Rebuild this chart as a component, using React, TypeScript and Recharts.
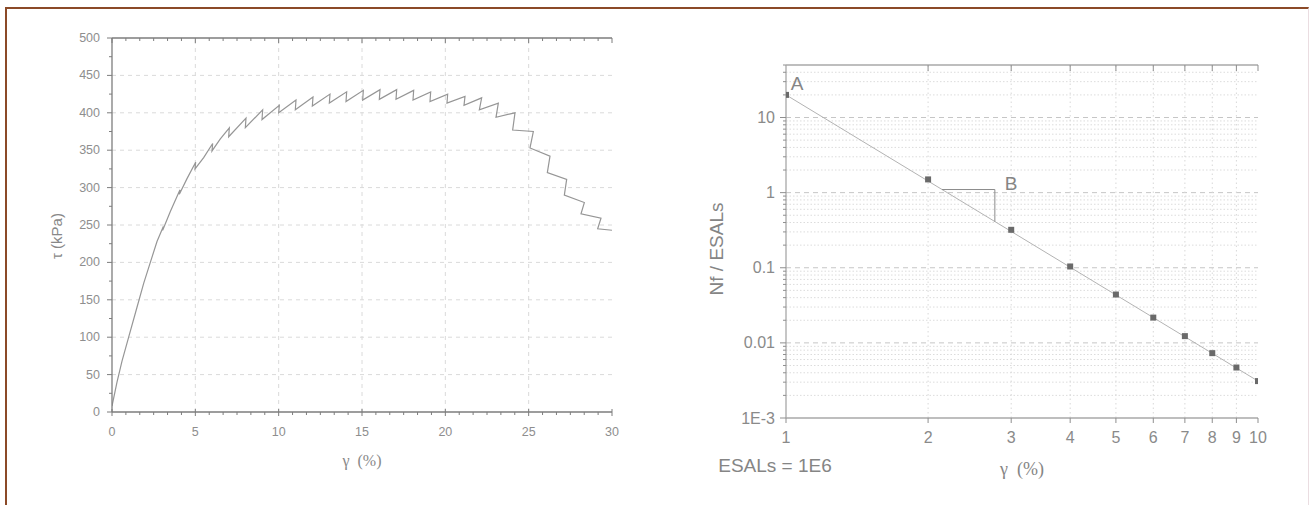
import React from 'react';
import { LineChart, Line, XAxis, YAxis, ReferenceLine } from 'recharts';

// ---------- Left chart: shear stress vs shear strain ----------
const strainPct = [
  0, 0.3, 0.6, 1.0, 1.5, 1.9, 2.3, 2.7, 3.08, 3.04, 3.5, 4.08, 4.04, 4.5, 5.02, 4.98,
  5.5, 6.04, 6.0, 6.5, 7.04, 7.0, 8.04, 8.0, 9.04, 9.0, 10.04, 10.0, 11.04, 11.0,
  12.06, 12.02, 13.08, 13.04, 14.08, 14.04, 15.08, 15.04, 16.08, 16.04, 17.08, 17.04,
  18.1, 18.06, 19.12, 19.08, 20.14, 20.1, 21.18, 21.12, 22.18, 22.04, 23.18, 23.04,
  24.18, 24.04, 25.28, 25.08, 26.28, 26.12, 27.28, 27.14, 28.34, 28.14, 29.34, 29.14, 30.0,
];
const shearKPa = [
  8, 40, 68, 100, 140, 172, 200, 228, 248, 243, 268, 297, 291, 312, 334, 325,
  340, 359, 349, 365, 380, 368, 393, 380, 404, 391, 410, 400, 417, 404,
  421, 409, 425, 413, 428, 415, 430, 417, 431, 418, 431, 418,
  430, 417, 428, 415, 425, 413, 422, 410, 420, 404, 413, 394,
  400, 377, 375, 353, 342, 320, 311, 290, 280, 265, 259, 245, 243,
];
const leftXMajor = [0, 5, 10, 15, 20, 25, 30];
const leftYMajor = [0, 50, 100, 150, 200, 250, 300, 350, 400, 450, 500];
const leftXMinorStep = 5 / 6;
const leftYMinorStep = 25;

// ---------- Right chart: Nf / ESALs vs shear strain (log-log) ----------
const gammaPct = [1, 2, 3, 4, 5, 6, 7, 8, 9, 10];
const nfOverEsals = [20, 1.5, 0.32, 0.104, 0.044, 0.0217, 0.0123, 0.0073, 0.0047, 0.0031];
const fitGamma = [1, 10];
const fitNf = [20, 0.0031];
const slopeGamma = [2.14, 2.77, 2.77];
const slopeNf = [1.1, 1.1, 0.41];
const rightXTicks = [1, 2, 3, 4, 5, 6, 7, 8, 9, 10];
const rightYMajor = [0.001, 0.01, 0.1, 1, 10];
const rightYMajorLabels = ['1E-3', '0.01', '0.1', '1', '10'];
const rightYTop = 50;

// ---------- derived tables ----------
const leftData = strainPct.map((g, i) => ({ g, tau: shearKPa[i] }));
const pointData = gammaPct.map((x, i) => ({ x, y: nfOverEsals[i] }));
const fitData = fitGamma.map((x, i) => ({ x, y: fitNf[i] }));
const slopeData = slopeGamma.map((x, i) => ({ x, y: slopeNf[i] }));

const leftXTicks: number[] = [];
for (let i = 0; i <= 36; i++) leftXTicks.push(+(i * leftXMinorStep).toFixed(6));
const leftYTicks: number[] = [];
for (let v = 0; v <= 500; v += leftYMinorStep) leftYTicks.push(v);

const rightYTicks: number[] = [];
rightYMajor.slice(0, 4).forEach((d) => {
  for (let m = 1; m <= 9; m++) rightYTicks.push(+(d * m).toPrecision(6));
});
[10, 20, 30, 40, 50].forEach((v) => rightYTicks.push(v));
const rightYMinor = rightYTicks.filter((v) => !rightYMajor.some((m) => Math.abs(m - v) / m < 1e-6) && v < rightYTop);

const isIn = (arr: number[], v: number) => arr.some((m) => Math.abs(m - v) <= Math.max(Math.abs(m), 1e-9) * 1e-6);

type TickOpts = {
  side: 'bottom' | 'left' | 'top';
  majors: number[];
  majorOut: number;
  majorIn: number;
  minorOut: number;
  minorIn: number;
  stroke: string;
  showLabels: boolean;
  label?: (v: number) => string;
  gap: number;
  size: number;
  fill: string;
  font: string;
};

function makeTick(o: TickOpts) {
  return (p: any) => {
    const { x, y, payload, index } = p;
    const v = payload.value as number;
    const major = isIn(o.majors, v);
    const out = major ? o.majorOut : o.minorOut;
    const inn = major ? o.majorIn : o.minorIn;
    const txt = o.label ? o.label(v) : String(v);
    let line: React.ReactNode = null;
    let text: React.ReactNode = null;
    if (o.side === 'bottom') {
      line = <line x1={x} x2={x} y1={y - inn} y2={y + out} stroke={o.stroke} strokeWidth={1} />;
      if (o.showLabels && major)
        text = (
          <text x={x} y={y + o.gap} textAnchor="middle" dominantBaseline="central" fontSize={o.size} fill={o.fill} fontFamily={o.font}>
            {txt}
          </text>
        );
    } else if (o.side === 'left') {
      line = <line x1={x - out} x2={x + inn} y1={y} y2={y} stroke={o.stroke} strokeWidth={1} />;
      if (o.showLabels && major)
        text = (
          <text x={x - o.gap} y={y} textAnchor="end" dominantBaseline="central" fontSize={o.size} fill={o.fill} fontFamily={o.font}>
            {txt}
          </text>
        );
    } else {
      line = <line x1={x} x2={x} y1={y - out} y2={y + inn} stroke={o.stroke} strokeWidth={1} />;
    }
    return (
      <g key={`t-${o.side}-${index}`}>
        {line}
        {text}
      </g>
    );
  };
}

const SANS = '"Liberation Sans", Arial, sans-serif';
const SERIF = '"Liberation Serif", "DejaVu Serif", serif';

const leftAxisColor = '#7d7d7d';
const leftTextColor = '#8e8e8e';
const rightAxisColor = '#a8a8a8';
const rightTextColor = '#8a8a8a';

const SquareDot = (p: any) => {
  if (p.cx == null || p.cy == null) return <g key={`sq-${p.index}`} />;
  return <rect key={`sq-${p.index}`} x={p.cx - 3} y={p.cy - 3} width={6} height={6} fill="#6a6a6a" />;
};

const abs = (left: number, top: number): React.CSSProperties => ({ position: 'absolute', left, top });

const centered = (
  left: number,
  top: number,
  size: number,
  color: string,
  family: string,
  rotate = false
): React.CSSProperties => ({
  position: 'absolute',
  left,
  top,
  transform: `translate(-50%, -50%)${rotate ? ' rotate(-90deg)' : ''}`,
  fontSize: size,
  color,
  fontFamily: family,
  whiteSpace: 'pre',
  lineHeight: 1,
});

export default function App() {
  return (
    <div style={{ position: 'absolute', left: 0, top: 0, width: 1309, height: 505, overflow: 'hidden', background: '#fff' }}>
      {/* frame */}
      <div
        style={{
          position: 'absolute',
          left: 5,
          top: 7,
          width: 1304,
          height: 520,
          boxSizing: 'border-box',
          borderTop: '2px solid #8b4a28',
          borderLeft: '2px solid #8b4a28',
          borderRight: '1px solid #eadde1',
        }}
      />

      {/* left chart */}
      <div style={abs(0, 0)}>
        <LineChart width={640} height={505} data={leftData} margin={{ top: 37, right: 28, bottom: 63, left: 52 }}>
          {leftYMajor.slice(1, -1).map((v) => (
            <ReferenceLine key={`lh${v}`} y={v} stroke="#dadada" strokeDasharray="4 4" strokeWidth={1} />
          ))}
          {leftXMajor.slice(1, -1).map((v) => (
            <ReferenceLine key={`lv${v}`} x={v} stroke="#dadada" strokeDasharray="4 4" strokeWidth={1} />
          ))}
          <XAxis
            dataKey="g"
            type="number"
            domain={[0, 30]}
            allowDataOverflow
            ticks={leftXTicks}
            interval={0}
            height={30}
            tickSize={0}
            tickMargin={0}
            tickLine={false}
            axisLine={{ stroke: leftAxisColor, strokeWidth: 1.3 }}
            tick={makeTick({
              side: 'bottom',
              majors: leftXMajor,
              majorOut: 4,
              majorIn: 3,
              minorOut: 3,
              minorIn: 0,
              stroke: leftAxisColor,
              showLabels: true,
              gap: 20,
              size: 12.5,
              fill: leftTextColor,
              font: SANS,
            })}
          />
          <XAxis
            xAxisId="top"
            orientation="top"
            dataKey="g"
            type="number"
            domain={[0, 30]}
            allowDataOverflow
            ticks={leftXTicks}
            interval={0}
            height={1}
            tickSize={0}
            tickMargin={0}
            tickLine={false}
            axisLine={{ stroke: leftAxisColor, strokeWidth: 1.3 }}
            tick={makeTick({
              side: 'top',
              majors: leftXMajor,
              majorOut: 0,
              majorIn: 5,
              minorOut: 0,
              minorIn: 3,
              stroke: leftAxisColor,
              showLabels: false,
              gap: 0,
              size: 12,
              fill: leftTextColor,
              font: SANS,
            })}
          />
          <YAxis
            type="number"
            domain={[0, 500]}
            allowDataOverflow
            ticks={leftYTicks}
            interval={0}
            width={60}
            tickSize={0}
            tickMargin={0}
            tickLine={false}
            axisLine={{ stroke: leftAxisColor, strokeWidth: 1.3 }}
            tick={makeTick({
              side: 'left',
              majors: leftYMajor,
              majorOut: 5,
              majorIn: 0,
              minorOut: 3,
              minorIn: 0,
              stroke: leftAxisColor,
              showLabels: true,
              gap: 12,
              size: 12.5,
              fill: leftTextColor,
              font: SANS,
            })}
          />
          <Line dataKey="tau" type="linear" stroke="#969696" strokeWidth={1.2} dot={false} isAnimationActive={false} />
        </LineChart>
      </div>

      {/* right chart */}
      <div style={abs(680, 0)}>
        <LineChart width={629} height={505} margin={{ top: 64, right: 51, bottom: 57, left: 46 }}>
          {rightYMinor.map((v) => (
            <ReferenceLine key={`rm${v}`} y={v} stroke="#dcdcdc" strokeDasharray="1.5 2" strokeWidth={1} />
          ))}
          {rightYMajor.slice(1).map((v) => (
            <ReferenceLine key={`rM${v}`} y={v} stroke="#c6c6c6" strokeDasharray="5 4" strokeWidth={1} />
          ))}
          {rightXTicks.slice(1, -1).map((v) => (
            <ReferenceLine key={`rv${v}`} x={v} stroke="#d8d8d8" strokeDasharray="1.5 3" strokeWidth={1} />
          ))}
          <XAxis
            dataKey="x"
            type="number"
            scale="log"
            domain={[1, 10]}
            allowDataOverflow
            ticks={rightXTicks}
            interval={0}
            height={30}
            tickSize={0}
            tickMargin={0}
            tickLine={false}
            axisLine={{ stroke: rightAxisColor, strokeWidth: 1.3 }}
            tick={makeTick({
              side: 'bottom',
              majors: rightXTicks,
              majorOut: 5,
              majorIn: 0,
              minorOut: 5,
              minorIn: 0,
              stroke: '#8f8f8f',
              showLabels: true,
              gap: 19,
              size: 16,
              fill: rightTextColor,
              font: SANS,
            })}
          />
          <XAxis
            xAxisId="top"
            orientation="top"
            dataKey="x"
            type="number"
            scale="log"
            domain={[1, 10]}
            allowDataOverflow
            ticks={rightXTicks.slice(1)}
            interval={0}
            height={1}
            tickSize={0}
            tickMargin={0}
            tickLine={false}
            axisLine={{ stroke: rightAxisColor, strokeWidth: 1.3 }}
            tick={makeTick({
              side: 'top',
              majors: rightXTicks,
              majorOut: 0,
              majorIn: 6,
              minorOut: 0,
              minorIn: 6,
              stroke: '#8f8f8f',
              showLabels: false,
              gap: 0,
              size: 12,
              fill: rightTextColor,
              font: SANS,
            })}
          />
          <YAxis
            dataKey="y"
            type="number"
            scale="log"
            domain={[0.001, rightYTop]}
            allowDataOverflow
            ticks={rightYTicks}
            interval={0}
            width={60}
            tickSize={0}
            tickMargin={0}
            tickLine={false}
            axisLine={{ stroke: rightAxisColor, strokeWidth: 1.3 }}
            tick={makeTick({
              side: 'left',
              majors: rightYMajor,
              majorOut: 6,
              majorIn: 0,
              minorOut: 3,
              minorIn: 0,
              stroke: '#8f8f8f',
              showLabels: true,
              label: (v) => rightYMajorLabels[rightYMajor.findIndex((m) => Math.abs(m - v) / m < 1e-6)],
              gap: 11,
              size: 16,
              fill: rightTextColor,
              font: SANS,
            })}
          />
          <Line data={fitData} dataKey="y" type="linear" stroke="#b3b3b3" strokeWidth={1} dot={false} isAnimationActive={false} />
          <Line data={slopeData} dataKey="y" type="linear" stroke="#8c8c8c" strokeWidth={1} dot={false} isAnimationActive={false} />
          <Line
            data={pointData}
            dataKey="y"
            type="linear"
            stroke="none"
            dot={(p: any) => <SquareDot key={`sq-${p.index}`} {...p} />}
            activeDot={false}
            isAnimationActive={false}
          />
        </LineChart>
      </div>

      {/* titles & annotations */}
      <div style={centered(56, 236, 15, '#888', SANS, true)}>τ (kPa)</div>
      <div style={centered(362, 461, 16, '#888', SERIF)}>γ  (%)</div>
      <div style={centered(716, 249, 19, '#858585', SANS, true)}>Nf / ESALs</div>
      <div style={centered(1022, 469, 18, '#858585', SERIF)}>γ  (%)</div>
      <div style={{ ...centered(775, 465, 19, '#858585', SANS) }}>ESALs = 1E6</div>
      <div style={centered(797, 83, 19, '#858585', SANS)}>A</div>
      <div style={centered(1011, 183, 19, '#858585', SANS)}>B</div>
    </div>
  );
}
